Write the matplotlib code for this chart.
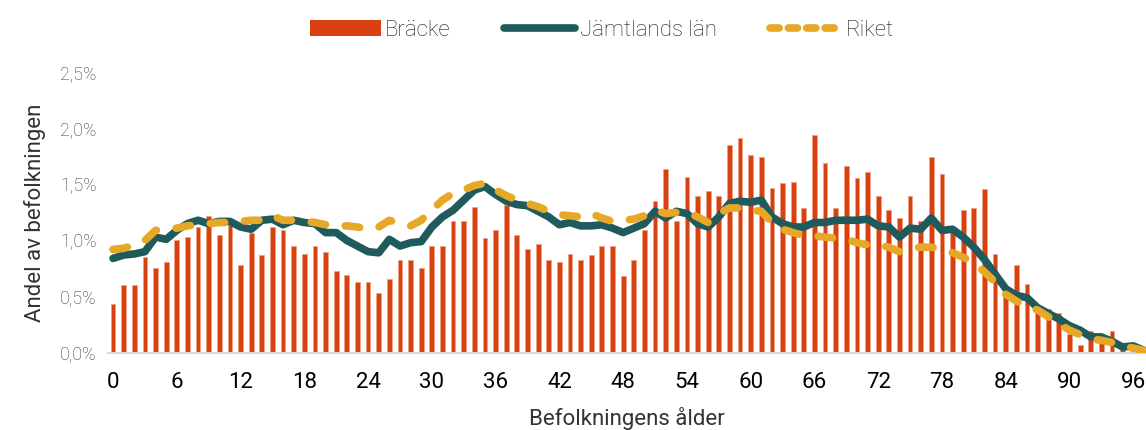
import numpy as np
import matplotlib.pyplot as plt
from matplotlib.ticker import FuncFormatter, MultipleLocator
from matplotlib.lines import Line2D
from matplotlib.patches import Patch

# Ålder 0-97
ages = list(range(0, 98))

# Bräcke (andel av befolkningen, %)
bracke = [0.43, 0.60, 0.60, 0.85, 0.75, 0.81, 1.00, 1.03, 1.12, 1.22,
          1.05, 1.14, 0.78, 1.07, 0.87, 1.12, 1.09, 0.95, 0.88, 0.95,
          0.90, 0.73, 0.69, 0.63, 0.63, 0.53, 0.66, 0.83, 0.83, 0.75,
          0.95, 0.95, 1.17, 1.17, 1.30, 1.02, 1.09, 1.32, 1.05, 0.92,
          0.97, 0.83, 0.81, 0.88, 0.83, 0.87, 0.95, 0.95, 0.68, 0.83,
          1.09, 1.35, 1.64, 1.17, 1.57, 1.40, 1.44, 1.40, 1.85, 1.91,
          1.76, 1.74, 1.47, 1.51, 1.52, 1.29, 1.94, 1.69, 1.29, 1.66,
          1.56, 1.61, 1.40, 1.27, 1.20, 1.40, 1.17, 1.74, 1.59, 1.12,
          1.27, 1.29, 1.46, 0.88, 0.55, 0.78, 0.61, 0.40, 0.39, 0.35,
          0.17, 0.07, 0.19, 0.15, 0.19, 0.05, 0.02, 0.00]

# Jämtlands län
jamtland = [0.84, 0.87, 0.88, 0.90, 1.03, 1.01, 1.09, 1.15, 1.18, 1.15,
            1.17, 1.17, 1.12, 1.10, 1.18, 1.19, 1.14, 1.18, 1.16, 1.15,
            1.07, 1.07, 1.00, 0.95, 0.90, 0.89, 1.01, 0.95, 0.98, 0.99,
            1.12, 1.21, 1.27, 1.36, 1.45, 1.48, 1.41, 1.35, 1.32, 1.31,
            1.26, 1.21, 1.14, 1.16, 1.13, 1.13, 1.14, 1.11, 1.07, 1.11,
            1.15, 1.26, 1.20, 1.26, 1.24, 1.15, 1.12, 1.21, 1.33, 1.35,
            1.34, 1.36, 1.21, 1.15, 1.12, 1.12, 1.16, 1.16, 1.18, 1.18,
            1.18, 1.19, 1.13, 1.12, 1.03, 1.11, 1.10, 1.20, 1.09, 1.10,
            1.03, 0.94, 0.83, 0.70, 0.57, 0.51, 0.49, 0.40, 0.35, 0.30,
            0.24, 0.20, 0.14, 0.14, 0.10, 0.05, 0.06, 0.02]

# Riket
riket = [0.92, 0.93, 0.96, 1.00, 1.09, 1.10, 1.11, 1.13, 1.14, 1.15,
         1.16, 1.16, 1.17, 1.18, 1.18, 1.22, 1.18, 1.18, 1.17, 1.16,
         1.14, 1.13, 1.13, 1.12, 1.10, 1.12, 1.18, 1.15, 1.13, 1.18,
         1.27, 1.36, 1.42, 1.45, 1.49, 1.51, 1.45, 1.40, 1.36, 1.33,
         1.30, 1.26, 1.23, 1.22, 1.21, 1.24, 1.20, 1.17, 1.18, 1.19,
         1.22, 1.27, 1.24, 1.25, 1.25, 1.21, 1.16, 1.24, 1.29, 1.29,
         1.27, 1.26, 1.16, 1.10, 1.07, 1.04, 1.04, 1.03, 1.02, 1.01,
         0.98, 0.96, 0.96, 0.94, 0.90, 0.93, 0.94, 0.94, 0.92, 0.89,
         0.85, 0.80, 0.72, 0.63, 0.52, 0.46, 0.41, 0.38, 0.32, 0.26,
         0.20, 0.16, 0.12, 0.11, 0.09, 0.06, 0.04, 0.02]

bar_color = '#D9400F'
jamt_color = '#1F5A5C'
riket_color = '#E6A826'

plt.rcParams['font.family'] = ['Roboto', 'DejaVu Sans']
plt.rcParams['font.weight'] = 'light'

fig = plt.figure(figsize=(11.46, 4.30), dpi=100)
ax = fig.add_axes([0.094, 0.18, 0.906, 0.652])

x = np.array(ages)
ax.bar(x, np.array(bracke) / 100, width=0.45, color=bar_color,
       edgecolor='#F0A080', linewidth=0.5, zorder=2)
ax.plot(x, np.array(jamtland) / 100, color=jamt_color, linewidth=5.5,
        solid_capstyle='round', solid_joinstyle='round', zorder=3)
ax.plot(x, np.array(riket) / 100, color=riket_color, linewidth=5.5,
        linestyle=(0, (1.9, 2.6)), dash_capstyle='round', zorder=4)

ax.set_xlim(-0.5, 97.2)
ax.set_ylim(0, 0.025)
ax.xaxis.set_major_locator(MultipleLocator(6))
ax.yaxis.set_major_locator(MultipleLocator(0.005))
ax.yaxis.set_major_formatter(FuncFormatter(lambda v, p: f'{v*100:.1f}%'.replace('.', ',')))

for s in ['top', 'right', 'left']:
    ax.spines[s].set_visible(False)
ax.spines['bottom'].set_color('#D9D9D9')
ax.spines['bottom'].set_linewidth(1.5)
ax.tick_params(axis='x', length=0, labelsize=16, colors='black', pad=14)
ax.tick_params(axis='y', length=0, labelsize=13, colors='#3A3A3A', pad=8)
for lbl in ax.get_xticklabels():
    lbl.set_fontweight('normal')

ax.set_xlabel('Befolkningens ålder', fontsize=16, color='#333333', labelpad=10)
ax.set_ylabel('Andel av befolkningen', fontsize=16, color='#333333', labelpad=10)

handles = [Patch(facecolor=bar_color),
           Line2D([0], [0], color=jamt_color, linewidth=5.5, solid_capstyle='round'),
           Line2D([0], [0], color=riket_color, linewidth=5.5,
                  linestyle=(0, (1.2, 1.2)), dash_capstyle='round')]
leg = fig.legend(handles, ['Bräcke', 'Jämtlands län', 'Riket'], loc='upper center',
                 bbox_to_anchor=(0.525, 1.0), ncol=3, frameon=False, fontsize=16,
                 handlelength=3.2, handletextpad=0.2, columnspacing=2.4)
for t in leg.get_texts():
    t.set_color('#1A1A1A')

fig.savefig('out.png', dpi=100)
